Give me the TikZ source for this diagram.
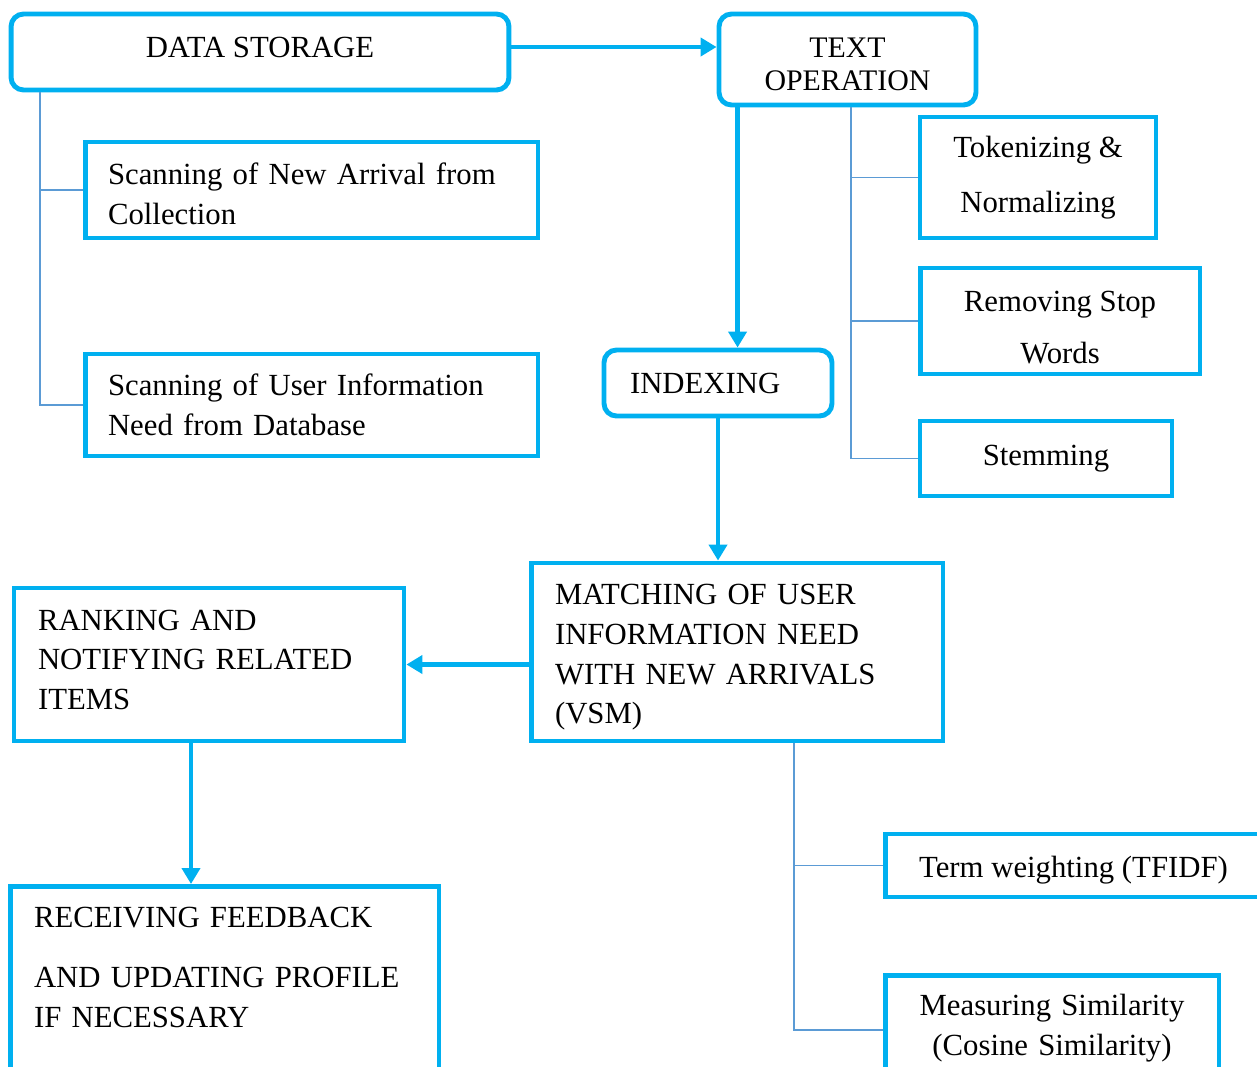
\documentclass[tikz,border=0pt]{standalone}
\usepackage{fontspec}
\setmainfont{Liberation Serif}
\usetikzlibrary{arrows.meta}
\definecolor{skyline}{HTML}{00B0F0}
\definecolor{branchblue}{HTML}{5B9BD5}
\tikzset{
  rbox/.style={draw=skyline, line width=2.8pt, rounded corners=0.25cm, inner sep=0pt},
  sbox/.style={draw=skyline, line width=2.8pt, inner sep=0pt},
  flow/.style={draw=skyline, line width=2.8pt, -{Triangle[length=0.32cm,width=0.36cm]}},
  branch/.style={draw=branchblue, line width=1.1pt},
}
\begin{document}
\begin{tikzpicture}[x=0.02cm, y=-0.02cm, font=\fontsize{17.5}{22.5}\selectfont]
        \useasboundingbox (0,0) rectangle (1257,1066);
        \clip (0,0) rectangle (1257,1066);
        % boxes
        \node[rbox, minimum width=9.96cm, minimum height=1.52cm, text height=0.22cm] (ds) at (260,52) {DATA STORAGE};
        \node[rbox, minimum width=5.14cm, minimum height=1.82cm, align=center, text height=1.24cm,
              font=\fontsize{17}{18.7}\selectfont] (top) at (847.5,59.5) {TEXT\\OPERATION};
        \node[sbox, align=left, inner xsep=0.46cm, text width=8.14cm, minimum height=1.92cm, text height=0.58cm] (sna) at (311.5,190)
              {Scanning of New Arrival from\\Collection};
        \node[sbox, align=left, inner xsep=0.46cm, text width=8.14cm, minimum height=2.04cm] (sui) at (311.5,405)
              {Scanning of User Information\\Need from Database};
        \node[sbox, align=center, minimum width=4.72cm, minimum height=2.42cm] (tok) at (1038,177.5)
              {Tokenizing \&\\[9pt]Normalizing};
        \node[sbox, align=center, minimum width=5.6cm, minimum height=2.12cm, text height=1.7cm] (rem) at (1060,321)
              {Removing Stop\\[7pt]Words};
        \node[sbox, minimum width=5.04cm, minimum height=1.5cm] (stem) at (1046,458.5) {Stemming};
        \node[rbox, align=left, inner xsep=0.52cm, text width=3.52cm, minimum height=1.32cm] (idx) at (718,383)
              {INDEXING};
        \node[sbox, align=left, inner xsep=0.48cm, text width=7.28cm, minimum height=3.56cm, text height=0.62cm] (mat) at (737,652)
              {MATCHING OF USER\\INFORMATION NEED\\WITH NEW ARRIVALS\\(VSM)};
        \node[sbox, align=left, inner xsep=0.48cm, text width=6.84cm, minimum height=3.06cm, text height=0.22cm] (rank) at (209,664.5)
              {RANKING AND\\NOTIFYING RELATED\\ITEMS};
        \node[sbox, anchor=north, align=left, inner xsep=0.48cm, inner ysep=0.42cm, text width=7.62cm,
              text depth=3.26cm] (rec) at (224.5,884)
              {RECEIVING FEEDBACK\\[11.5pt]AND UPDATING PROFILE\\IF NECESSARY};
        \node[sbox, minimum width=7.54cm, minimum height=1.26cm, text height=0.63cm] (tw) at (1073.5,865.5) {Term weighting (TFIDF)};
        \node[sbox, anchor=north, align=center, inner xsep=0.2cm, inner ysep=0.38cm, text width=6.28cm,
              text depth=0.98cm] (ms) at (1052,973)
              {Measuring Similarity\\(Cosine Similarity)};
        % arrows
        \draw[flow] ([yshift=0.1cm]ds.east) -- ([yshift=0.1cm]ds.east -| top.west);
        \draw[flow] ([xshift=0.42cm]top.south west) -- ([xshift=0.42cm]top.south west |- idx.north);
        \draw[flow] (idx.south) -- (idx.south |- mat.north);
        \draw[flow] (rank.east -| mat.west) -- (rank.east);
        \draw[flow] ([xshift=-0.36cm]rank.south) -- ([xshift=-0.36cm]rank.south |- rec.north);
        % lines
        \draw[branch] ([xshift=0.62cm]ds.south west) |- (sna.west);
        \draw[branch] ([xshift=0.62cm]ds.south west) |- (sui.west);
        \draw[branch] ([xshift=0.07cm]top.south) |- (tok.west);
        \draw[branch] ([xshift=0.07cm]top.south) |- (rem.west);
        \draw[branch] ([xshift=0.07cm]top.south) |- (stem.west);
        \draw[branch] ([xshift=5.3cm]mat.south west) |- (tw.west);
        \draw[branch] ([xshift=5.3cm]mat.south west) |- (ms.west);
      \end{tikzpicture}
\end{document}
